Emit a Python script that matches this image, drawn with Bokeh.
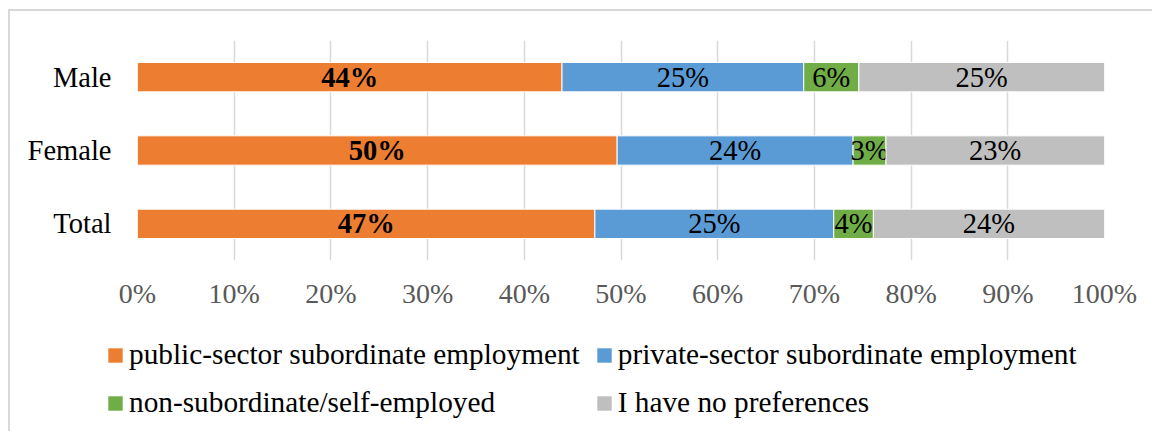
from bokeh.plotting import figure
from bokeh.models import (ColumnDataSource, Range1d, FactorRange, FixedTicker,
                          PrintfTickFormatter, Legend, LegendItem)
from bokeh.core.properties import value
from bokeh.embed import file_html
from bokeh.resources import INLINE

# ---------------- data ----------------
categories = ["Male", "Female", "Total"]
series_names = ["public-sector subordinate employment",
                "private-sector subordinate employment",
                "non-subordinate/self-employed",
                "I have no preferences"]
public_sector = [43.9, 49.6, 47.3]
private_sector = [25.0, 24.4, 24.7]
self_employed = [5.7, 3.4, 4.1]
no_preference = [25.4, 22.6, 23.9]
x_ticks = [0, 10, 20, 30, 40, 50, 60, 70, 80, 90, 100]

colors = ["#ED7D31", "#5B9BD5", "#70AD47", "#BFBFBF"]
FONT = "Liberation Serif"

series_values = [public_sector, private_sector, self_employed, no_preference]

W = 1144
p = figure(width=W, height=300,
           x_range=Range1d(0, 100),
           y_range=FactorRange(factors=list(reversed(categories))),
           output_backend="svg", toolbar_location=None,
           min_border_left=127, min_border_right=50,
           min_border_top=29, min_border_bottom=48)
p.styles = {"border-top": "2px solid #d9d9d9", "border-left": "2px solid #d9d9d9",
            "margin-top": "9px", "margin-left": "8px"}
p.outline_line_color = None
p.background_fill_color = "white"
p.border_fill_color = "white"

sources = []
cum = [0.0] * len(categories)
for i, (name, vals, col) in enumerate(zip(series_names, series_values, colors)):
    left = list(cum)
    right = [c + v for c, v in zip(cum, vals)]
    mid = [(l + r) / 2 for l, r in zip(left, right)]
    src = ColumnDataSource(dict(cat=categories, left=left, right=right, mid=mid,
                                lab=[f"{round(v)}%" for v in vals]))
    sources.append(src)
    p.hbar(y="cat", left="left", right="right", height=0.4, source=src,
           fill_color=col, line_color="white", line_width=1)
    p.text(x="mid", y="cat", text="lab", source=src,
           text_font=value(FONT), text_font_size="28.5px",
           text_font_style="bold" if i == 0 else "normal",
           text_color="black", text_align="center", text_baseline="middle")
    cum = right

# axes
xa = p.xaxis[0]
xa.ticker = FixedTicker(ticks=x_ticks)
xa.formatter = PrintfTickFormatter(format="%d%%")
xa.axis_line_color = None
xa.major_tick_line_color = None
xa.minor_tick_line_color = None
xa.major_tick_in = 0
xa.major_tick_out = 0
xa.major_label_standoff = 17
xa.major_label_text_font = FONT
xa.major_label_text_font_size = "28px"
xa.major_label_text_color = "#595959"

ya = p.yaxis[0]
ya.axis_line_color = None
ya.major_tick_line_color = None
ya.minor_tick_line_color = None
ya.major_tick_in = 0
ya.major_tick_out = 0
ya.major_label_standoff = 26
ya.major_label_text_font = FONT
ya.major_label_text_font_size = "28.5px"
ya.major_label_text_color = "black"

p.ygrid.grid_line_color = None
p.xgrid.grid_line_color = "#d9d9d9"
p.xgrid.grid_line_width = 1.5

# ---------------- legend (separate strip below the chart) ----------------
H2 = 122
lg = figure(width=W, height=H2, x_range=Range1d(0, 100),
            y_range=FactorRange(factors=list(reversed(categories))),
            output_backend="svg", toolbar_location=None,
            min_border=0, min_border_left=0, min_border_right=0,
            min_border_top=0, min_border_bottom=0)
lg.styles = {"border-left": "2px solid #d9d9d9", "margin-left": "8px"}
lg.axis.visible = False
lg.grid.visible = False
lg.outline_line_color = None
lg.border_fill_alpha = 0
lg.background_fill_alpha = 0

legend_renderers = []
for src, col in zip(sources, colors):
    r = lg.hbar(y="cat", left="left", right="right", height=0.4, source=src,
                fill_color=col, line_color=None, visible=False)
    legend_renderers.append(r)

legend = Legend(items=[LegendItem(label=n, renderers=[r])
                       for n, r in zip(series_names, legend_renderers)],
                location=(96, 12), orientation="horizontal", ncols=2,
                padding=0, margin=0, spacing=15,
                glyph_width=18, glyph_height=18, label_standoff=5,
                label_width=450, label_height=33,
                label_text_font=FONT, label_text_font_size="29.3px",
                label_text_color="black",
                inactive_fill_alpha=0, click_policy="none",
                border_line_color=None, background_fill_alpha=0)
lg.add_layout(legend, "center")

open("out.html", "w").write(file_html([p, lg], INLINE))
